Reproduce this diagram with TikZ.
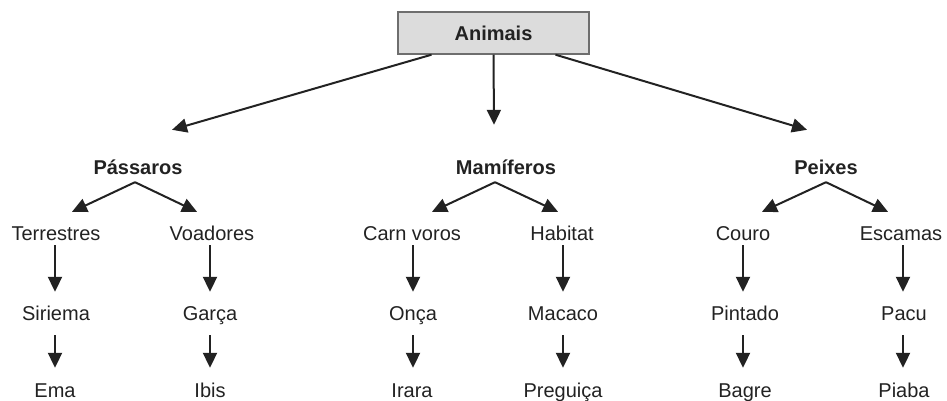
\documentclass[tikz,border=0pt]{standalone}
\usepackage{fontspec}
\setmainfont{Liberation Sans}
\usetikzlibrary{arrows.meta,calc}
\definecolor{ink}{HTML}{222222}
\definecolor{boxfill}{HTML}{DCDCDC}
\definecolor{boxline}{HTML}{6E6E6E}
\tikzset{
  lbl/.style={inner sep=0pt, anchor=base, text height=15pt, text depth=4pt,
    font=\fontsize{20}{24}\selectfont, text=ink},
  head/.style={lbl, font=\fontsize{20}{24}\selectfont\bfseries},
  topbox/.style={draw=boxline, line width=1.4pt, fill=boxfill, minimum width=191pt,
    minimum height=42pt, inner sep=0pt, font=\fontsize{20}{24}\selectfont\bfseries, text=ink},
  arr/.style={draw=ink, line width=2pt, -{Triangle[length=15pt,width=14pt]}}
}
\begin{document}
\begin{tikzpicture}[x=1pt,y=-1pt]
\useasboundingbox (0,0) rectangle (947,400);
% top
\node[topbox] (animais) at (493.5,33) {Animais};
% level 2
\node[head] (pass) at (138,174) {Pássaros};
\node[head] (mam) at (506,174) {Mamíferos};
\node[head] (pei) at (826,174) {Peixes};
% level 3
\node[lbl] (terr) at (56,240) {Terrestres};
\node[lbl] (voad) at (212,240) {Voadores};
\node[lbl] (carn) at (412,240) {Carn voros};
\node[lbl] (hab) at (562,240) {Habitat};
\node[lbl] (cou) at (743,240) {Couro};
\node[lbl] (esc) at (901,240) {Escamas};
% level 4
\node[lbl] (sir) at (56,320) {Siriema};
\node[lbl] (gar) at (210,320) {Garça};
\node[lbl] (onc) at (413,320) {Onça};
\node[lbl] (mac) at (563,320) {Macaco};
\node[lbl] (pin) at (745,320) {Pintado};
\node[lbl] (pac) at (904,320) {Pacu};
% level 5
\node[lbl] (ema) at (55,397) {Ema};
\node[lbl] (ibi) at (210,397) {Ibis};
\node[lbl] (ira) at (412,397) {Irara};
\node[lbl] (pre) at (563,397) {Preguiça};
\node[lbl] (bag) at (745,397) {Bagre};
\node[lbl] (pia) at (904,397) {Piaba};
% top arrows
\draw[arr] ($(animais.south)+(-62,0)$) -- ($(pass.north)+(34,-29)$);
\draw[arr] (animais.south) -- ($(mam.north)+(-12,-34)$);
\draw[arr] ($(animais.south)+(62,0)$) -- ($(pei.north)+(-19,-29)$);
% level 2 -> 3
\draw[arr] ($(pass.south)+(-3,4)$) -- ($(terr.north)+(16,-13)$);
\draw[arr] ($(pass.south)+(-3,4)$) -- ($(voad.north)+(-15,-13)$);
\draw[arr] ($(mam.south)+(-11,4)$) -- ($(carn.north)+(20,-13)$);
\draw[arr] ($(mam.south)+(-11,4)$) -- ($(hab.north)+(-4,-13)$);
\draw[arr] ($(pei.south)+(0,4)$) -- ($(cou.north)+(19,-13)$);
\draw[arr] ($(pei.south)+(0,4)$) -- ($(esc.north)+(-13,-13)$);
% level 3 -> 4
\foreach \a/\b/\dx in {terr/sir/-1, voad/gar/0, carn/onc/0, hab/mac/0, cou/pin/-2, esc/pac/-1}{
  \draw[arr] ($(\b.north |- \a.south)+(\dx,1)$) -- ($(\b.north)+(\dx,-13)$);
}
% level 4 -> 5
\foreach \a/\b/\dx in {sir/ema/-1, gar/ibi/0, onc/ira/0, mac/pre/0, pin/bag/-2, pac/pia/-1}{
  \draw[arr] ($(\a.south)+(\dx,11)$) -- ($(\a.south |- \b.north)+(\dx,-14)$);
}
\end{tikzpicture}
\end{document}
